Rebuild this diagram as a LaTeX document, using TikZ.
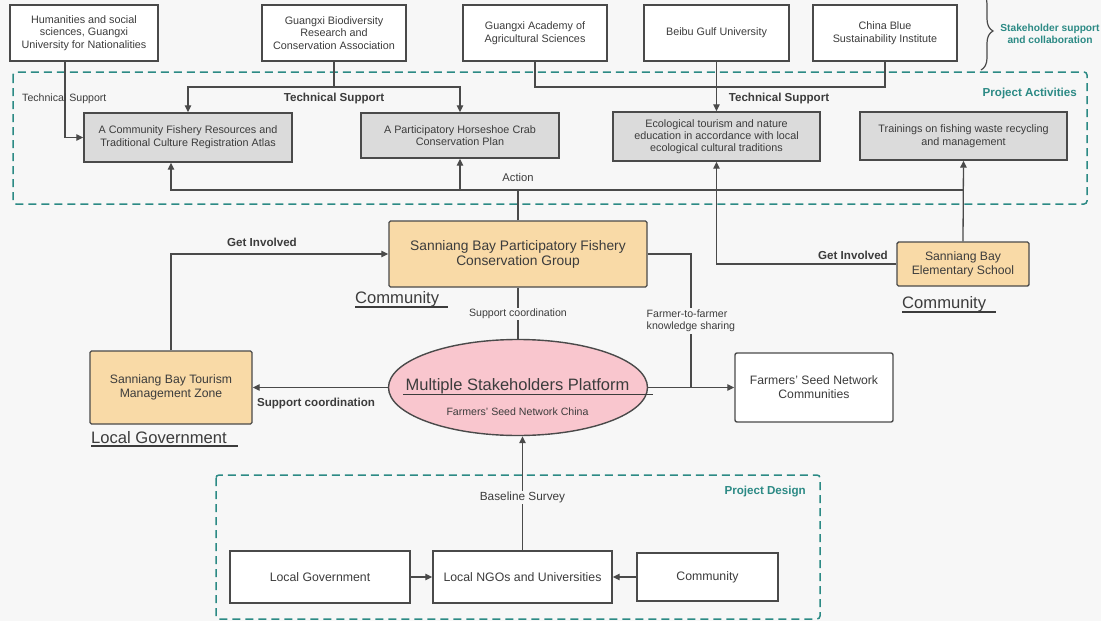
\documentclass[tikz,border=0pt]{standalone}
\usepackage{fontspec}
\setmainfont{Liberation Sans}
\usetikzlibrary{arrows.meta,shapes.geometric,decorations.pathreplacing}
\definecolor{bgc}{HTML}{F7F7F7}
\definecolor{ink}{HTML}{3C3C3C}
\definecolor{linec}{HTML}{4A4A4A}
\definecolor{teal}{HTML}{2C8A85}
\definecolor{grayfill}{HTML}{DBDBDB}
\definecolor{orangefill}{HTML}{F9DAA7}
\definecolor{pinkfill}{HTML}{F9C6CE}
\tikzset{
  box/.style={draw=linec, line width=1.4pt, fill=white, align=center, inner sep=2pt, text=ink, font=\fontsize{10.8}{12.6}\selectfont},
  graybox/.style={box, fill=grayfill},
  orangebox/.style={box, fill=orangefill, rounded corners=1.5pt},
  midtext/.style={font=\fontsize{12.2}{14}\selectfont},
  conn/.style={draw=linec, line width=1.3pt},
  arr/.style={conn, -{Triangle[length=7pt,width=6.5pt]}},
  dashbox/.style={draw=teal, line width=1.5pt, dash pattern=on 8pt off 5pt, rounded corners=3pt},
  lbl/.style={text=ink, inner sep=1pt, font=\fontsize{11.2}{12.5}\selectfont},
  smalllbl/.style={text=ink, inner sep=1pt, font=\fontsize{10.6}{12.5}\selectfont},
  boldlbl/.style={text=ink, inner sep=1pt, font=\fontsize{11.6}{13}\selectfont\bfseries},
  teallbl/.style={text=teal, inner sep=1pt, font=\fontsize{11.6}{13}\selectfont\bfseries},
  biglbl/.style={text=ink, inner sep=0pt, font=\fontsize{16.6}{18}\selectfont},
  uline/.style={draw=ink, line width=1.2pt},
}
\begin{document}
\begin{tikzpicture}[x=1pt,y=-1pt]
\fill[bgc] (0,0) rectangle (1101,621);
\useasboundingbox (0,0) rectangle (1101,621);
\clip (0,0) rectangle (1101,621);

% dashed regions
\draw[dashbox] (13,72) rectangle (1087,204);
\draw[dashbox] (216,475) rectangle (820,619);

% top stakeholder boxes
\node[box, minimum width=148pt, minimum height=56pt] (hum) at (84,33) {Humanities and social\\sciences, Guangxi\\University for Nationalities};
\node[box, minimum width=144pt, minimum height=56pt] (bio) at (334,33) {Guangxi Biodiversity\\Research and\\Conservation Association};
\node[box, minimum width=144pt, minimum height=56pt] (acad) at (535,33) {Guangxi Academy of\\Agricultural Sciences};
\node[box, minimum width=145pt, minimum height=56pt] (beibu) at (716.5,33) {Beibu Gulf University};
\node[box, minimum width=144pt, minimum height=56pt] (cbsi) at (885,33) {China Blue\\Sustainability Institute};

\draw[decorate, decoration={brace, amplitude=12pt}, draw=linec, line width=1.2pt] (981,-8) -- (981,70);
\node[teallbl, align=center, font=\fontsize{10.2}{12}\selectfont\bfseries] (stk) at (1050,34) {Stakeholder support\\and collaboration};

% project activities
\node[graybox, minimum width=208pt, minimum height=49pt] (atlas) at (188,137.5) {A Community Fishery Resources and\\Traditional Culture Registration Atlas};
\node[graybox, minimum width=198pt, minimum height=45pt] (horse) at (460,135.5) {A Participatory Horseshoe Crab\\Conservation Plan};
\node[graybox, minimum width=207pt, minimum height=49pt, font=\fontsize{10.8}{12}\selectfont] (eco) at (716.5,136.5) {Ecological tourism and nature\\education in accordance with local\\ecological cultural traditions};
\node[graybox, minimum width=207pt, minimum height=48pt] (train) at (963.5,136) {Trainings on fishing waste recycling\\and management};
\node[teallbl, anchor=east] (pact) at (1078,93) {Project Activities};

% community / government actors
\node[orangebox, minimum width=258pt, minimum height=66pt, font=\fontsize{13.8}{15}\selectfont] (pgroup) at (518,254) {Sanniang Bay Participatory Fishery\\Conservation Group};
\node[orangebox, minimum width=162pt, minimum height=73pt, midtext] (tour) at (171,387.5) {Sanniang Bay Tourism\\Management Zone};
\node[orangebox, minimum width=132pt, minimum height=44pt, midtext] (school) at (963,264) {Sanniang Bay\\Elementary School};
\node[box, rounded corners=2pt, minimum width=158pt, minimum height=69pt, midtext] (farm) at (814,387.5) {Farmers’ Seed Network\\Communities};

% platform ellipse
\node[ellipse, draw=linec, line width=1.4pt, fill=pinkfill, minimum width=259pt, minimum height=96pt, inner sep=0pt] (platform) at (518,387.5) {};
\node[text=ink, inner sep=0pt, font=\fontsize{16.5}{18}\selectfont] (plat) at (517.5,386) {Multiple Stakeholders Platform};
\draw[uline] (403,394.5) -- (653,394.5);
\node[smalllbl] (fsnc) at (517.5,412) {Farmers’ Seed Network China};

% underlined role labels
\node[biglbl, anchor=west] (commL) at (355,299) {Community};
\draw[uline] (355,307) -- (448,307);
\node[biglbl, anchor=west] (govL) at (91,438) {Local Government};
\draw[uline] (91,446) -- (238,446);
\node[biglbl, anchor=west] (commR) at (902,304) {Community};
\draw[uline] (902,312) -- (996,312);

% project design
\node[box, minimum width=180pt, minimum height=52pt, font=\fontsize{12.3}{14}\selectfont] (lg) at (320,577) {Local Government};
\node[box, minimum width=179pt, minimum height=52pt, font=\fontsize{12.3}{14}\selectfont] (ngo) at (522.5,577) {Local NGOs and Universities};
\node[box, minimum width=141pt, minimum height=48pt, font=\fontsize{12.3}{14}\selectfont] (comm) at (707.5,577) {Community};
\node[teallbl, anchor=east] (pdes) at (807,492) {Project Design};

% technical support connectors
\draw[arr] ([xshift=-19pt]hum.south) |- (atlas.west);
\node[smalllbl, anchor=west] (ts1) at (21,99) {Technical Support};
\coordinate (tsj) at (334,87);
\draw[conn] (bio.south) -- (tsj);
\draw[arr] (tsj) -| (atlas.north);
\draw[arr] (tsj) -| (horse.north);
\node[boldlbl] (ts2) at (334,99) {Technical Support};
\coordinate (tsk) at (716.5,87);
\draw[conn] (acad.south) |- (tsk) -| (cbsi.south);
\draw[arr] (beibu.south) -- (eco.north);
\node[boldlbl] (ts3) at (779,99) {Technical Support};

% action connectors
\coordinate (actj) at (518,190);
\coordinate (trj) at (963.5,190);
\draw[conn] (pgroup.north) -- (actj);
\draw[arr] (actj) -| ([xshift=-17pt]atlas.south);
\draw[arr] (actj) -| (horse.south);
\draw[conn] (actj) -- (trj);
\draw[arr] (school.north) -- (train.south);
\node[lbl] (act) at (518,177) {Action};
\draw[arr] (school.west) -| (eco.south);
\node[boldlbl] (gi2) at (853,255) {Get Involved};

% get involved left
\draw[arr] (tour.north) |- (pgroup.west);
\node[boldlbl] (gi1) at (262,242) {Get Involved};

% support coordination
\draw[conn] (pgroup.south) -- (platform.north);
\node[smalllbl, fill=bgc] (sc1) at (518,314) {Support coordination};
\draw[arr] (platform.west) -- (tour.east);
\node[boldlbl] (sc2) at (316,403) {Support coordination};

% farmer to farmer
\coordinate (fj) at (691,387.5);
\draw[conn] (pgroup.east) -| (fj);
\draw[arr] (platform.east) -- (farm.west);
\node[smalllbl, fill=bgc, anchor=west, align=left, inner sep=1.5pt, font=\fontsize{10.6}{12.5}\selectfont] (f2f) at (645,321) {Farmer-to-farmer\\knowledge sharing};

% baseline survey
\draw[arr] (ngo.north) -- (ngo.north |- platform.south);
\node[lbl, fill=bgc, font=\fontsize{11.8}{13}\selectfont] (bs) at (522.5,497) {Baseline Survey};
\draw[arr] (lg.east) -- (ngo.west);
\draw[arr] (comm.west) -- (ngo.east);
\end{tikzpicture}
\end{document}
